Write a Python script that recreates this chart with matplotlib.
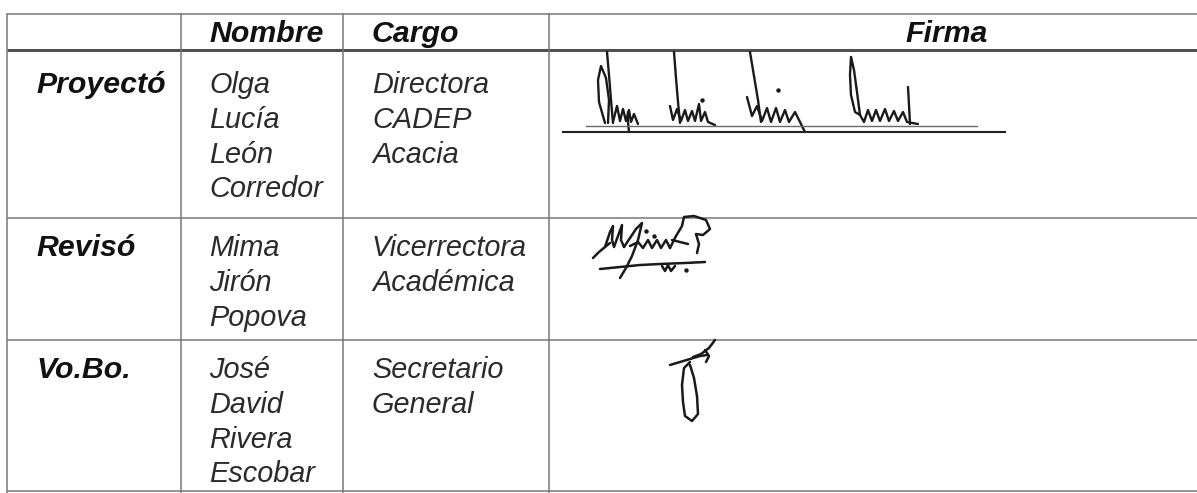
import matplotlib
matplotlib.use("Agg")
import matplotlib.pyplot as plt

# ---------------- data ----------------
headers = ["", "Nombre", "Cargo", "Firma"]
row_labels = ["Proyectó", "Revisó", "Vo.Bo."]
names = [["Olga", "Lucía", "León", "Corredor"],
         ["Mima", "Jirón", "Popova"],
         ["José", "David", "Rivera", "Escobar"]]
cargos = [["Directora", "CADEP", "Acacia"],
          ["Vicerrectora", "Académica"],
          ["Secretario", "General"]]

# signature strokes (pixel coordinates of the scanned image)
sig1_strokes = [
    # Olga
    [(607, 52), (609, 75), (611, 100), (613, 123)],
    [(605, 123), (599, 102), (598, 80), (601, 66), (606, 78), (609, 100), (608, 123)],
    [(613, 122), (617, 106), (620, 121), (623, 109), (626, 121), (629, 110), (631, 122), (634, 114), (638, 124)],
    [(628, 112), (628, 122), (629, 132)],
    # Lucía
    [(674, 52), (676, 78), (678, 102), (680, 123)],
    [(670, 106), (673, 120), (677, 109), (681, 121), (685, 110), (688, 121), (692, 111), (695, 121), (699, 104), (701, 121), (705, 112), (708, 122), (715, 125)],
    # León
    [(750, 52), (754, 76), (758, 100), (761, 122)],
    [(747, 97), (752, 116), (757, 106), (762, 121), (767, 108), (771, 122), (776, 108), (780, 122), (785, 110), (789, 122), (795, 112), (800, 122), (805, 132)],
    # Corredor
    [(851, 57), (850, 75), (851, 95), (855, 112), (860, 115), (857, 92), (854, 70), (851, 57)],
    [(860, 115), (864, 122), (868, 110), (872, 121), (876, 110), (880, 121), (885, 109), (889, 121), (894, 111), (898, 121), (903, 112), (907, 122), (918, 124)],
    [(908, 87), (909, 105), (910, 124)],
]
sig1_dots = [(702, 100), (778, 90)]
sig1_lines = [((586, 977), 125.5, 1.0, "#6a6a6a"), ((563, 1005), 132, 1.5, "#222222")]

sig2_strokes = [
    [(593, 258), (599, 252), (605, 247), (610, 243)],
    [(605, 247), (610, 232), (613, 226), (612, 240), (614, 247), (618, 236), (622, 225), (621, 240), (624, 247)],
    [(624, 247), (630, 238), (636, 229), (642, 223), (638, 240), (632, 256), (626, 268), (620, 278)],
    [(630, 246), (638, 242), (643, 248), (648, 240), (652, 248), (657, 240), (661, 248), (666, 240), (670, 248)],
    [(670, 248), (676, 236), (682, 226), (684, 217), (694, 216), (706, 220), (710, 229), (703, 235), (696, 234), (699, 244), (697, 253)],
    [(672, 240), (680, 242), (688, 244)],
    [(600, 269), (620, 267), (640, 265), (660, 264), (685, 263), (705, 262)],
    [(662, 266), (665, 271), (668, 265), (671, 271), (675, 266)],
]
sig2_dots = [(654, 236), (646, 231), (686, 270)]

sig3_strokes = [
    [(715, 340), (709, 348), (701, 354), (693, 357)],
    [(670, 365), (680, 362), (690, 359), (700, 356), (707, 355)],
    [(705, 350), (709, 356), (706, 362)],
    [(690, 362), (684, 368), (682, 385), (683, 402), (685, 416), (692, 421), (698, 414), (697, 396), (694, 378), (690, 365)],
]

# table geometry (pixels)
col_x = [7, 181, 343, 549]
row_y = [14, 50, 218, 340, 491]

W, H = 1197, 493
fig = plt.figure(figsize=(W / 100, H / 100), dpi=100)
ax = fig.add_axes([0, 0, 1, 1])
ax.set_xlim(0, W)
ax.set_ylim(H, 0)
ax.axis("off")

line_col = "#787878"
for i, y in enumerate(row_y):
    lw = 2.2 if i == 1 else 1.1
    col = "#505050" if i == 1 else line_col
    ax.plot([col_x[0], W], [y, y], color=col, lw=lw, solid_capstyle="butt")
for x in col_x:
    ax.plot([x, x], [row_y[0], H], color=line_col, lw=1.1)

fs = 20.8
fs_b = 21.8
bold_col = "#111111"
txt_col = "#2b2b2b"
fam = ["Liberation Sans", "DejaVu Sans"]

ax.text(209, 42, headers[1], fontsize=fs_b, fontweight="bold", style="italic", family=fam, color=bold_col, va="baseline")
ax.text(372, 42, headers[2], fontsize=fs_b, fontweight="bold", style="italic", family=fam, color=bold_col, va="baseline")
ax.text(988, 42, headers[3], fontsize=fs_b, fontweight="bold", style="italic", family=fam, color=bold_col, va="baseline", ha="right")

base_y = [93, 256, 378]
step = 34.8
for r, lab in enumerate(row_labels):
    ax.text(36, base_y[r], lab, fontsize=fs_b, fontweight="bold", style="italic", family=fam, color=bold_col, va="baseline")
    for k, nm in enumerate(names[r]):
        ax.text(209, base_y[r] + k * step, nm, fontsize=fs, style="italic", family=fam, color=txt_col, va="baseline")
    for k, cg in enumerate(cargos[r]):
        ax.text(372, base_y[r] + k * step, cg, fontsize=fs, style="italic", family=fam, color=txt_col, va="baseline")

sig_col = "#1a1a1a"
for strokes, lw in ((sig1_strokes, 1.7), (sig2_strokes, 1.8), (sig3_strokes, 1.8)):
    for s in strokes:
        ax.plot([p[0] for p in s], [p[1] for p in s], color=sig_col, lw=lw,
                solid_joinstyle="round", solid_capstyle="round")
for dots in (sig1_dots, sig2_dots):
    ax.plot([d[0] for d in dots], [d[1] for d in dots], "o", color=sig_col, ms=2.2)
for (x0, x1), y, lw, c in sig1_lines:
    ax.plot([x0, x1], [y, y], color=c, lw=lw)

fig.savefig("out.png", dpi=100, facecolor="white")
